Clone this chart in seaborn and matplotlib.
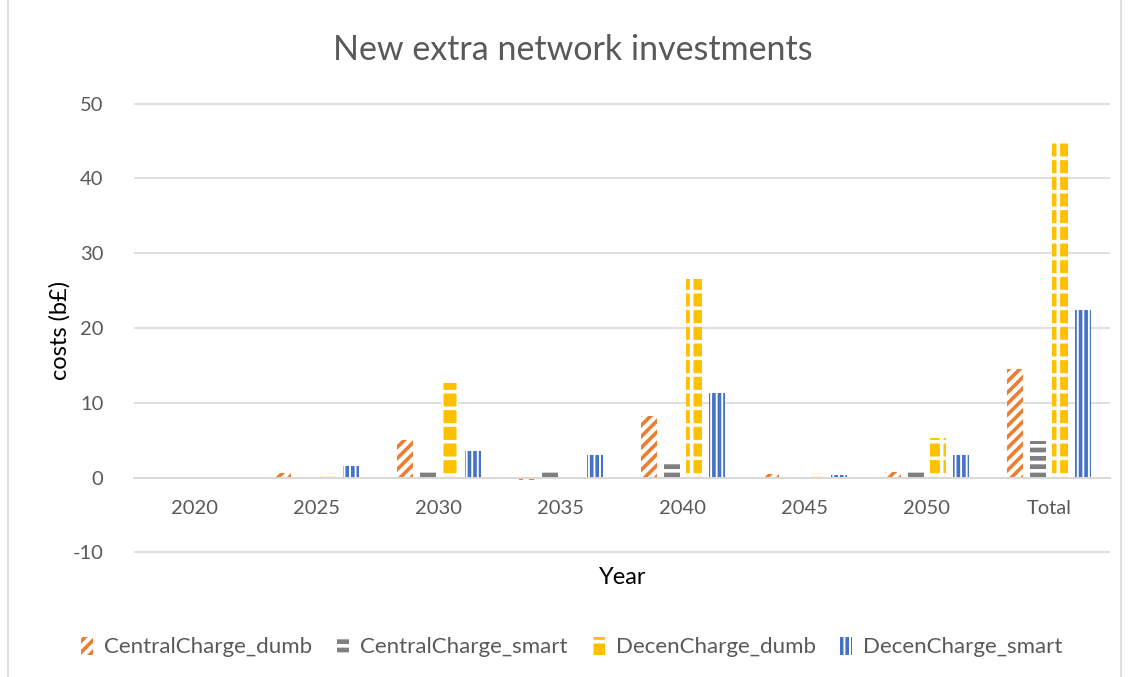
import matplotlib
matplotlib.use("Agg")
import matplotlib.pyplot as plt
import seaborn as sns
import pandas as pd
from matplotlib.patches import Patch
from matplotlib.lines import Line2D

years = ["2020", "2025", "2030", "2035", "2040", "2045", "2050", "Total"]
series = ["CentralCharge_dumb", "CentralCharge_smart", "DecenCharge_dumb", "DecenCharge_smart"]
central_dumb = [-0.1, 0.6, 5.0, -0.3, 8.2, 0.5, 0.8, 14.5]
central_smart = [0.05, 0.1, 0.8, 0.8, 2.0, 0.1, 0.8, 4.9]
decen_dumb = [-0.1, 0.6, 12.7, -0.1, 26.5, 0.6, 5.3, 45.2]
decen_smart = [-0.1, 1.5, 3.6, 3.0, 11.3, 0.4, 3.0, 22.4]

colors = ["#ED7D31", "#7F7F7F", "#FFC000", "#4472C4"]
hatches = ["///", "--", "+", "|||"]
# (face, hatch colour) per series
styles = [("white", colors[0]), (colors[1], "white"), (colors[2], "white"), ("white", colors[3])]

rows = []
for name, vals in zip(series, [central_dumb, central_smart, decen_dumb, decen_smart]):
    for y, v in zip(years, vals):
        rows.append({"Year": y, "cost": v, "series": name})
df = pd.DataFrame(rows)

sns.set_theme(style="white")
plt.rcParams["font.family"] = ["Lato", "DejaVu Sans"]
plt.rcParams["hatch.linewidth"] = 2.6
plt.rcParams["axes.unicode_minus"] = False
txt = "#595959"

fig = plt.figure(figsize=(11.29, 6.77), dpi=100)
ax = fig.add_axes([134 / 1129, 1 - 553 / 677, 976 / 1129, 450 / 677])

sns.barplot(data=df, x="Year", y="cost", hue="series", order=years, hue_order=series,
            palette=colors, width=0.74, gap=0.29, legend=False, ax=ax, errorbar=None)

for cont, (fc, hc), h in zip(ax.containers, styles, hatches):
    for p in cont.patches:
        p.set_facecolor(fc)
        p.set_edgecolor(hc)
        p.set_hatch(h)
        p.set_linewidth(0)

ax.set_xlim(-0.5, len(years) - 0.5)
ax.set_ylim(-10.1, 50.1)
ax.set_yticks(range(-10, 51, 10))
ax.grid(axis="y", color="#D9D9D9", linewidth=1.2)
ax.set_axisbelow(True)
for s in ["left", "right", "top"]:
    ax.spines[s].set_visible(False)
ax.spines["bottom"].set_position(("data", 0))
ax.spines["bottom"].set_color("#D9D9D9")
ax.spines["bottom"].set_linewidth(1.4)
ax.tick_params(axis="x", length=0, pad=16, labelsize=14.5, labelcolor=txt)
ax.tick_params(axis="y", length=0, pad=22, labelsize=14.5, labelcolor=txt)
ax.set_xlabel("")
ax.set_ylabel("")
fig.text(60 / 1129, 1 - 330 / 677, "costs (b£)", rotation=90, ha="center", va="center",
         fontsize=17, color="black")
fig.text(623 / 1129, 1 - 577 / 677, "Year", ha="center", va="center",
         fontsize=17, color="black")
fig.text(573 / 1129, 1 - 50 / 677, "New extra network investments", ha="center", va="center",
         fontsize=24.5, color=txt)

handles = [Patch(facecolor=fc, edgecolor=hc, hatch=h, linewidth=0)
           for (fc, hc), h in zip(styles, hatches)]
leg = fig.legend(handles, series, loc="center", bbox_to_anchor=(572 / 1129, 1 - 647 / 677), ncol=4,
                 frameon=False, fontsize=16, handlelength=0.55, handleheight=0.9,
                 handletextpad=0.5, columnspacing=1.1)
for t in leg.get_texts():
    t.set_color(txt)

for xpix in (8, 1121):
    fig.add_artist(Line2D([xpix / 1129, xpix / 1129], [0, 1], transform=fig.transFigure,
                          color="#D9D9D9", linewidth=1.2))

fig.savefig("out.png", dpi=100)
